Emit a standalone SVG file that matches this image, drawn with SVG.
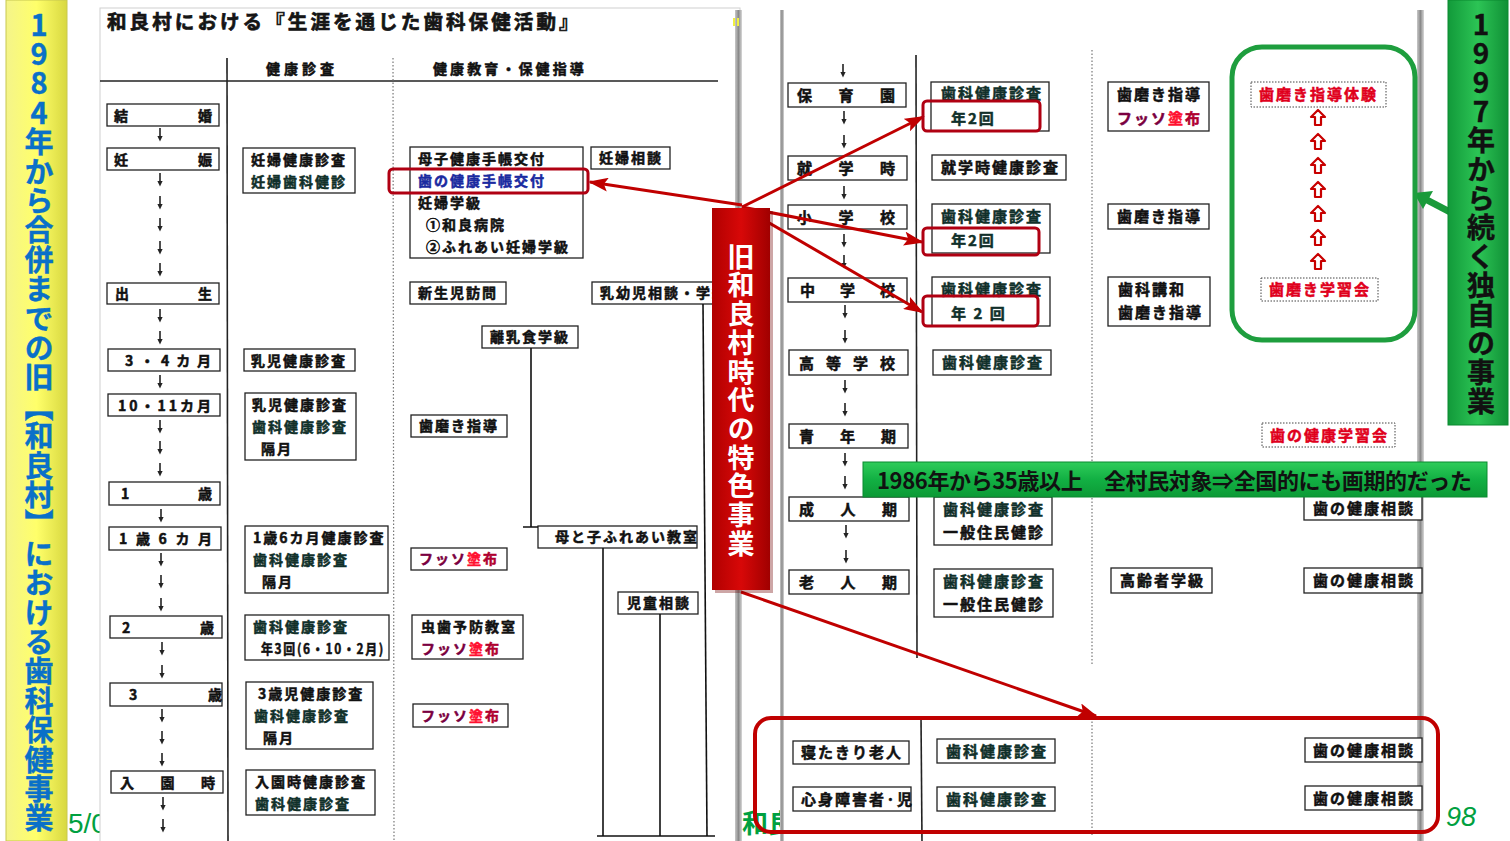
<svg xmlns="http://www.w3.org/2000/svg" xmlns:xlink="http://www.w3.org/1999/xlink" width="1510" height="841" viewBox="0 0 1510 841">
<defs>
<style>
.bx{fill:#fff;stroke:#222;stroke-width:1.3}
.db{fill:#fff;stroke:#444;stroke-width:1;stroke-dasharray:1.5 1.5}
.t{font-family:"Noto Sans CJK JP","Noto Sans CJK SC",sans-serif;font-weight:bold;font-size:14px;letter-spacing:2px;fill:#111;stroke:#111;stroke-width:0.5px}
.t2{font-family:"Noto Sans CJK JP","Noto Sans CJK SC",sans-serif;font-weight:bold;font-size:15px;letter-spacing:2px;fill:#111;stroke:#111;stroke-width:0.5px}
.tl{font-family:"Noto Sans CJK JP","Noto Sans CJK SC",sans-serif;font-weight:bold;font-size:14px;fill:#111;stroke:#111;stroke-width:0.5px}
.hl{fill:none;stroke:#b00012;stroke-width:3}
.ln{stroke:#111;stroke-width:1.6;fill:none}
.rt{fill:#e0001c;stroke:#e0001c}
.g{fill:#10302a;stroke:#10302a}
.bl{fill:#1a2aa0;stroke:#1a2aa0}
.fa{fill:#7a0040;stroke:#7a0040}
.fb{fill:#ff1030;stroke:#ff1030}
.fc{fill:#b00030;stroke:#b00030}
.vt{font-family:"Noto Sans CJK JP","Noto Sans CJK SC",sans-serif;font-weight:bold;writing-mode:vertical-rl;text-orientation:upright}
.ra{stroke:#c00000;stroke-width:3;fill:none;marker-end:url(#ah)}
</style>
<marker id="ah" markerUnits="userSpaceOnUse" markerWidth="20" markerHeight="14" refX="18" refY="7" orient="auto"><path d="M0,0 L20,7 L0,14 L4,7 Z" fill="#c00000"/></marker>
<g id="da"><path d="M0,-7 V2" stroke="#222" stroke-width="1.6"/><path d="M-2.6,1 L0,6.5 L2.6,1 Z" fill="#222"/></g>
<path id="ua" d="M0,-8 L7,-1 L3,-1 L3,7 L-3,7 L-3,-1 L-7,-1 Z" fill="#fff" stroke="#c80000" stroke-width="2.2" stroke-linejoin="round"/>
<linearGradient id="yel" x1="0" x2="1" y1="0" y2="0"><stop offset="0" stop-color="#f4f48a"/><stop offset="0.5" stop-color="#ffff6a"/><stop offset="1" stop-color="#d8d840"/></linearGradient>
<linearGradient id="grn" x1="0" x2="1" y1="0" y2="0"><stop offset="0" stop-color="#129a3a"/><stop offset="0.5" stop-color="#2cc455"/><stop offset="1" stop-color="#109036"/></linearGradient>
<linearGradient id="grh" x1="0" x2="0" y1="0" y2="1"><stop offset="0" stop-color="#2fcc5a"/><stop offset="0.5" stop-color="#12b043"/><stop offset="1" stop-color="#0c9a36"/></linearGradient>
<linearGradient id="red" x1="0" x2="1" y1="0" y2="0"><stop offset="0" stop-color="#b00000"/><stop offset="0.5" stop-color="#d80808"/><stop offset="1" stop-color="#a00000"/></linearGradient>
<linearGradient id="shd" x1="0" x2="1" y1="0" y2="0"><stop offset="0" stop-color="#c8c8c8"/><stop offset="0.5" stop-color="#8a8a8a"/><stop offset="1" stop-color="#d8d8d8"/></linearGradient>
</defs>
<rect width="1510" height="841" fill="#fff"/>

<!-- background labels partly hidden -->
<text x="68" y="833" font-family="Liberation Sans,sans-serif" font-size="28" fill="#00a040">5/0</text>
<text x="742" y="833" font-family="Noto Sans CJK JP,sans-serif" font-weight="bold" font-size="26" fill="#00a040">和良</text>

<!-- yellow bar -->
<g id="yellow-bar">
<rect x="6" y="0" width="61" height="841" fill="url(#yel)" stroke="#c8c850" stroke-width="1"/>
<text class="vt" x="39" y="10" font-size="29" letter-spacing="0.4" fill="#0a70c8" stroke="#0a70c8" stroke-width="0.4">1984年から合併までの旧【和良村】における歯科保健事業</text>
</g>

<!-- pages -->
<g id="left-page">
<rect x="100" y="8" width="640" height="840" fill="#fff" stroke="#d0d0d0" stroke-width="1"/>
<rect x="735" y="10" width="7" height="831" fill="url(#shd)"/>
<rect x="733" y="18" width="2" height="8" fill="#f0f040"/>
<rect x="737" y="18" width="2" height="8" fill="#f0f040"/>
<text x="107" y="29" font-family="Noto Sans CJK JP,sans-serif" font-weight="bold" font-size="19.5" letter-spacing="3.1" fill="#151515" stroke="#151515" stroke-width="0.7">和良村における『生涯を通じた歯科保健活動』</text>
<text x="266" y="74" class="tl" font-size="13" letter-spacing="4">健康診査</text>
<text x="433" y="74" class="tl" font-size="13" letter-spacing="3.1">健康教育・保健指導</text>
<line x1="100" y1="81" x2="718" y2="81" stroke="#222" stroke-width="1.6"/>
<line x1="227" y1="58" x2="228" y2="841" stroke="#222" stroke-width="1.6"/>
<line x1="393" y1="58" x2="394" y2="841" stroke="#777" stroke-width="1.2" stroke-dasharray="1.5 2"/>
</g>
<g id="right-page">
<rect x="782" y="10" width="640" height="831" fill="#fff"/>
<rect x="780" y="10" width="4" height="831" fill="url(#shd)"/>
<rect x="1417" y="10" width="7" height="831" fill="url(#shd)"/>
<line x1="916" y1="55" x2="917" y2="658" stroke="#222" stroke-width="1.6"/>
<line x1="921" y1="717" x2="922" y2="841" stroke="#222" stroke-width="1.6"/>
<line x1="1092" y1="50" x2="1092" y2="665" stroke="#777" stroke-width="1.2" stroke-dasharray="1.5 2"/>
<line x1="1092" y1="718" x2="1092" y2="836" stroke="#777" stroke-width="1.2" stroke-dasharray="1.5 2"/>
</g>

<!-- left page stage column -->
<g id="n-kekkon"><rect class="bx" x="107" y="104" width="112" height="22"/><text class="tl" x="114" y="121" textLength="98" lengthAdjust="spacing">結婚</text></g>
<g id="n-ninshin"><rect class="bx" x="107" y="148" width="112" height="22"/><text class="tl" x="114" y="165" textLength="98" lengthAdjust="spacing">妊娠</text></g>
<g id="n-shussei"><rect class="bx" x="107" y="283" width="112" height="21"/><text class="tl" x="115" y="299" textLength="97" lengthAdjust="spacing">出生</text></g>
<g id="n-34"><rect class="bx" x="108" y="349" width="112" height="22"/><text class="tl" x="125" y="366" textLength="86" lengthAdjust="spacing">3・4カ月</text></g>
<g id="n-1011"><rect class="bx" x="108" y="394" width="112" height="22"/><text class="tl" x="118" y="411" textLength="93" lengthAdjust="spacing">10・11カ月</text></g>
<g id="n-1sai"><rect class="bx" x="109" y="482" width="111" height="23"/><text class="tl" x="121" y="499" textLength="91" lengthAdjust="spacing">1歳</text></g>
<g id="n-1sai6"><rect class="bx" x="109" y="527" width="112" height="23"/><text class="tl" x="119" y="544" textLength="93" lengthAdjust="spacing">1歳6カ月</text></g>
<g id="n-2sai"><rect class="bx" x="110" y="616" width="112" height="22"/><text class="tl" x="122" y="633" textLength="92" lengthAdjust="spacing">2歳</text></g>
<g id="n-3sai"><rect class="bx" x="110" y="683" width="112" height="23"/><text class="tl" x="129" y="700" textLength="93" lengthAdjust="spacing">3歳</text></g>
<g id="n-nyuen"><rect class="bx" x="111" y="771" width="112" height="22"/><text class="tl" x="120" y="788" textLength="95" lengthAdjust="spacing">入園時</text></g>

<!-- left page health check column -->
<g id="h-ninpu"><rect class="bx" x="243" y="148" width="112" height="45"/><text class="t" x="251" y="165">妊婦健康診査</text><text class="t g" x="251" y="187">妊婦歯科健診</text></g>
<g id="h-nyuji1"><rect class="bx" x="244" y="349" width="111" height="22"/><text class="t" x="251" y="366">乳児健康診査</text></g>
<g id="h-nyuji2"><rect class="bx" x="245" y="393" width="111" height="67"/><text class="t" x="252" y="410">乳児健康診査</text><text class="t g" x="252" y="432">歯科健康診査</text><text class="t" x="261" y="454">隔月</text></g>
<g id="h-1sai6"><rect class="bx" x="245" y="526" width="143" height="67"/><text class="t" x="253" y="543" letter-spacing="1.6">1歳6カ月健康診査</text><text class="t g" x="253" y="565">歯科健康診査</text><text class="t" x="262" y="587">隔月</text></g>
<g id="h-2sai"><rect class="bx" x="245" y="615" width="144" height="45"/><text class="t g" x="253" y="632">歯科健康診査</text><text class="t" x="261" y="654" letter-spacing="0" textLength="124" lengthAdjust="spacingAndGlyphs">年3回(6・10・2月)</text></g>
<g id="h-3sai"><rect class="bx" x="246" y="682" width="127" height="67"/><text class="t" x="258" y="699">3歳児健康診査</text><text class="t g" x="254" y="721">歯科健康診査</text><text class="t" x="263" y="743">隔月</text></g>
<g id="h-nyuen"><rect class="bx" x="246" y="770" width="129" height="45"/><text class="t" x="255" y="787">入園時健康診査</text><text class="t g" x="255" y="809">歯科健康診査</text></g>

<!-- left page education column -->
<g id="e-techo"><rect class="bx" x="410" y="147" width="173" height="111"/><text class="t" x="418" y="164">母子健康手帳交付</text><text class="t bl" x="418" y="186">歯の健康手帳交付</text><text class="t" x="418" y="208">妊婦学級</text><text class="t" x="426" y="230">①和良病院</text><text class="t" x="426" y="252">②ふれあい妊婦学級</text></g>
<g id="e-ninpusodan"><rect class="bx" x="591" y="147" width="79" height="22"/><text class="t" x="599" y="163">妊婦相談</text></g>
<g id="e-shinseiji"><rect class="bx" x="410" y="282" width="96" height="22"/><text class="t" x="418" y="298">新生児訪問</text></g>
<g id="e-nyuyoji"><rect class="bx" x="592" y="282" width="125" height="22"/><text class="t" x="600" y="298" letter-spacing="1.3">乳幼児相談・学級</text></g>
<g id="e-rinyu"><rect class="bx" x="482" y="326" width="96" height="22"/><text class="t" x="490" y="342">離乳食学級</text></g>
<g id="e-hamigaki"><rect class="bx" x="411" y="415" width="96" height="22"/><text class="t" x="419" y="431">歯磨き指導</text></g>
<g id="e-oyako"><rect class="bx" x="538" y="526" width="159" height="22"/><text class="t" x="555" y="542">母と子ふれあい教室</text></g>
<g id="e-fusso1"><rect class="bx" x="411" y="548" width="96" height="22"/><text class="t" x="419" y="564"><tspan class="fa">フッソ</tspan><tspan class="fb">塗</tspan><tspan class="fc">布</tspan></text></g>
<g id="e-jido"><rect class="bx" x="618" y="592" width="80" height="22"/><text class="t" x="627" y="608">児童相談</text></g>
<g id="e-mushiba"><rect class="bx" x="412" y="615" width="111" height="44"/><text class="t" x="421" y="632">虫歯予防教室</text><text class="t" x="421" y="654"><tspan class="fa">フッソ</tspan><tspan class="fb">塗</tspan><tspan class="fc">布</tspan></text></g>
<g id="e-fusso2"><rect class="bx" x="413" y="704" width="95" height="23"/><text class="t" x="421" y="721"><tspan class="fa">フッソ</tspan><tspan class="fb">塗</tspan><tspan class="fc">布</tspan></text></g>

<!-- right page stage column -->
<g id="n-hoikuen"><rect class="bx" x="788" y="83" width="118" height="24"/><text class="t2" x="797" y="101" textLength="100" lengthAdjust="spacing">保育園</text></g>
<g id="n-shugakuji"><rect class="bx" x="788" y="156" width="119" height="24"/><text class="t2" x="797" y="174" textLength="100" lengthAdjust="spacing">就学時</text></g>
<g id="n-sho"><rect class="bx" x="788" y="205" width="119" height="24"/><text class="t2" x="797" y="223" textLength="100" lengthAdjust="spacing">小学校</text></g>
<g id="n-chu"><rect class="bx" x="788" y="278" width="119" height="24"/><text class="t2" x="800" y="296" textLength="97" lengthAdjust="spacing">中学校</text></g>
<g id="n-koko"><rect class="bx" x="789" y="350" width="119" height="25"/><text class="t2" x="799" y="369" textLength="98" lengthAdjust="spacing">高等学校</text></g>
<g id="n-seinen"><rect class="bx" x="789" y="424" width="119" height="24"/><text class="t2" x="799" y="442" textLength="99" lengthAdjust="spacing">青年期</text></g>
<g id="n-seijin"><rect class="bx" x="789" y="497" width="120" height="24"/><text class="t2" x="799" y="515" textLength="100" lengthAdjust="spacing">成人期</text></g>
<g id="n-rojin"><rect class="bx" x="789" y="570" width="120" height="24"/><text class="t2" x="799" y="588" textLength="100" lengthAdjust="spacing">老人期</text></g>

<!-- right page health check column -->
<g id="h-hoikuen"><rect class="bx" x="931" y="82" width="118" height="49"/><text class="t2 g" x="941" y="99">歯科健康診査</text><text class="t2 g" x="951" y="124">年2回</text></g>
<g id="h-shugakuji"><rect class="bx" x="932" y="155" width="134" height="25"/><text class="t2" x="941" y="173">就学時健康診査</text></g>
<g id="h-sho"><rect class="bx" x="932" y="204" width="118" height="49"/><text class="t2 g" x="941" y="222">歯科健康診査</text><text class="t2 g" x="951" y="246">年2回</text></g>
<g id="h-chu"><rect class="bx" x="932" y="277" width="118" height="49"/><text class="t2 g" x="941" y="295">歯科健康診査</text><text class="t2 g" x="951" y="319" xml:space="preserve">年 2 回</text></g>
<g id="h-koko"><rect class="bx" x="933" y="350" width="118" height="25"/><text class="t2 g" x="942" y="368">歯科健康診査</text></g>
<g id="h-seijin"><rect class="bx" x="934" y="497" width="118" height="48"/><text class="t2 g" x="943" y="515">歯科健康診査</text><text class="t2" x="943" y="538">一般住民健診</text></g>
<g id="h-rojin"><rect class="bx" x="934" y="569" width="119" height="48"/><text class="t2 g" x="943" y="587">歯科健康診査</text><text class="t2" x="943" y="610">一般住民健診</text></g>

<!-- right page education column -->
<g id="e-hoikuen"><rect class="bx" x="1108" y="82" width="101" height="49"/><text class="t2" x="1117" y="100">歯磨き指導</text><text class="t2" x="1117" y="124"><tspan class="fa">フッソ</tspan><tspan class="fb">塗</tspan><tspan class="fc">布</tspan></text></g>
<g id="e-sho"><rect class="bx" x="1108" y="204" width="101" height="25"/><text class="t2" x="1117" y="222">歯磨き指導</text></g>
<g id="e-chu"><rect class="bx" x="1108" y="277" width="102" height="49"/><text class="t2" x="1118" y="295">歯科講和</text><text class="t2" x="1118" y="318">歯磨き指導</text></g>
<g id="e-koreisha"><rect class="bx" x="1111" y="568" width="101" height="25"/><text class="t2" x="1120" y="586">高齢者学級</text></g>

<!-- right page independent column -->
<g id="r-taiken"><rect class="db" x="1251" y="82" width="135" height="25"/><text class="t2 rt" x="1259" y="100">歯磨き指導体験</text></g>
<g id="r-gakushu"><rect class="db" x="1261" y="278" width="117" height="23"/><text class="t2 rt" x="1269" y="295">歯磨き学習会</text></g>
<g id="r-kenko-gakushu"><rect class="db" x="1262" y="423" width="133" height="24"/><text class="t2 rt" x="1270" y="441">歯の健康学習会</text></g>
<g id="r-sodan1"><rect class="bx" x="1304" y="496" width="118" height="24"/><text class="t2" x="1313" y="514">歯の健康相談</text></g>
<g id="r-sodan2"><rect class="bx" x="1304" y="568" width="118" height="25"/><text class="t2" x="1313" y="586">歯の健康相談</text></g>

<!-- bottom group -->
<g id="b-netakiri"><rect class="bx" x="793" y="741" width="116" height="23"/><text class="t2" x="801" y="758">寝たきり老人</text></g>
<g id="b-shinshin"><rect class="bx" x="793" y="787" width="118" height="24"/><text class="t2" x="801" y="805" letter-spacing="0.6">心身障害者·児</text></g>
<g id="b-shika1"><rect class="bx" x="937" y="739" width="118" height="24"/><text class="t2 g" x="946" y="757">歯科健康診査</text></g>
<g id="b-shika2"><rect class="bx" x="937" y="787" width="118" height="24"/><text class="t2 g" x="946" y="805">歯科健康診査</text></g>
<g id="b-sodan1"><rect class="bx" x="1305" y="738" width="117" height="24"/><text class="t2" x="1313" y="756">歯の健康相談</text></g>
<g id="b-sodan2"><rect class="bx" x="1305" y="786" width="117" height="24"/><text class="t2" x="1313" y="804">歯の健康相談</text></g>

<!-- connectors -->
<g id="connectors">
<g id="stage-arrows-left">
<use href="#da" x="160" y="135"/><use href="#da" x="160" y="180"/><use href="#da" x="160" y="203"/><use href="#da" x="160" y="225"/><use href="#da" x="160" y="248"/><use href="#da" x="160" y="270"/>
<use href="#da" x="160" y="316"/><use href="#da" x="160" y="338"/><use href="#da" x="160" y="382"/><use href="#da" x="160" y="427"/><use href="#da" x="160" y="448"/><use href="#da" x="160" y="470"/>
<use href="#da" x="161" y="516"/><use href="#da" x="161" y="560"/><use href="#da" x="161" y="582"/><use href="#da" x="161" y="605"/><use href="#da" x="162" y="649"/><use href="#da" x="162" y="672"/>
<use href="#da" x="162" y="716"/><use href="#da" x="162" y="738"/><use href="#da" x="162" y="760"/><use href="#da" x="163" y="804"/><use href="#da" x="163" y="826"/>
</g>
<g id="stage-arrows-right">
<use href="#da" x="843" y="71"/><use href="#da" x="844" y="118"/><use href="#da" x="844" y="142"/><use href="#da" x="844" y="193"/><use href="#da" x="844" y="241"/><use href="#da" x="844" y="262"/>
<use href="#da" x="845" y="312"/><use href="#da" x="845" y="337"/><use href="#da" x="845" y="387"/><use href="#da" x="845" y="410"/><use href="#da" x="845" y="460"/><use href="#da" x="845" y="483"/>
<use href="#da" x="846" y="532"/><use href="#da" x="846" y="557"/>
</g>
<g id="tree-lines">
<path class="ln" d="M531,348 V527 M523,527 H538"/>
<path class="ln" d="M703,304 L707,836"/>
<path class="ln" d="M603,548 V836"/>
<path class="ln" d="M660,614 V836"/>
<path class="ln" d="M597,836 H715"/>
</g>
<g id="up-arrows">
<use href="#ua" x="1318" y="118"/><use href="#ua" x="1318" y="142"/><use href="#ua" x="1318" y="166"/><use href="#ua" x="1318" y="190"/><use href="#ua" x="1318" y="214"/><use href="#ua" x="1318" y="238"/><use href="#ua" x="1318" y="262"/>
</g>
<g id="red-arrows">
<line class="ra" x1="742" y1="205" x2="590" y2="182"/>
<line class="ra" x1="742" y1="207" x2="923" y2="117"/>
<line class="ra" x1="742" y1="207" x2="922" y2="242"/>
<line class="ra" x1="742" y1="207" x2="922" y2="312"/>
<line class="ra" x1="741" y1="592" x2="1096" y2="716"/>
</g>
<g id="green-arrow">
<line x1="1450" y1="212" x2="1427" y2="200" stroke="#1a9a3a" stroke-width="7"/>
<path d="M1414,193 L1433,191 L1423,209 Z" fill="#1a9a3a"/>
</g>
</g>

<!-- highlight frames -->
<g id="highlights">
<rect class="hl" x="389" y="169" width="199" height="24" rx="4"/>
<rect class="hl" x="923" y="101" width="117" height="30" rx="4"/>
<rect class="hl" x="923" y="228" width="116" height="27" rx="4"/>
<rect class="hl" x="923" y="296" width="115" height="30" rx="4"/>
</g>
<g id="green-frame"><rect x="1232" y="47" width="183" height="293" rx="30" fill="none" stroke="#1e9e3e" stroke-width="5"/></g>
<g id="bottom-frame"><rect x="755" y="718" width="683" height="114" rx="16" fill="none" stroke="#c00000" stroke-width="4"/></g>

<!-- banners -->
<g id="red-banner">
<rect x="715" y="211" width="58" height="382" fill="#700000" opacity="0.35"/>
<rect x="712" y="208" width="58" height="382" fill="url(#red)"/>
<text class="vt" x="741" y="243" font-size="27" letter-spacing="1.7" fill="#fff">旧和良村時代の特色事業</text>
</g>
<g id="green-banner">
<rect x="863" y="462" width="624" height="35" fill="url(#grh)" stroke="#0a8a30" stroke-width="1"/>
<text x="877" y="489" font-family="Noto Sans CJK JP,sans-serif" font-weight="bold" font-size="22" fill="#111" textLength="595" lengthAdjust="spacing" xml:space="preserve">1986年から35歳以上　全村民対象⇒全国的にも画期的だった</text>
</g>
<g id="green-bar">
<rect x="1448" y="0" width="60" height="425" fill="url(#grn)" stroke="#0a8a30" stroke-width="1"/>
<text class="vt" x="1481" y="10" font-size="28" letter-spacing="1" fill="#111" stroke="#111" stroke-width="0.4">1997年から続く独自の事業</text>
</g>
<text x="1446" y="826" font-family="Liberation Sans,sans-serif" font-style="italic" font-size="27" fill="#00a040">98</text>
</svg>
